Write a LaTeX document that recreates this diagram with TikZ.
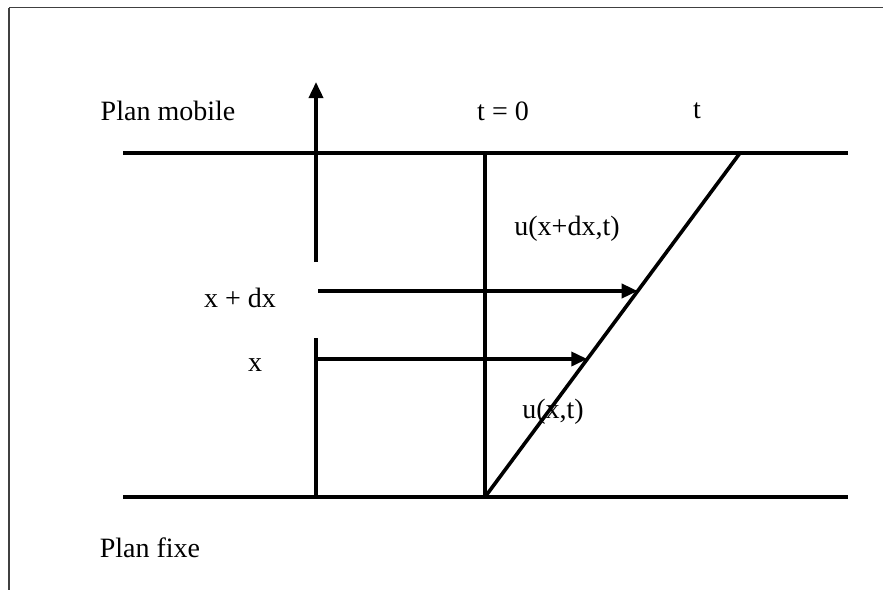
\documentclass[tikz,border=0pt]{standalone}
\usepackage{fontspec}
\setmainfont{Liberation Serif}
\usetikzlibrary{positioning, arrows.meta, calc}

\begin{document}
\begin{tikzpicture}[
    x=0.5pt, y=-0.5pt,
    plan/.style={line width=1.8pt},
    frame/.style={line width=0.7pt, draw=black!75},
    arr/.style={-{Triangle[length=8pt, width=7pt]}, line width=1.8pt},
    lbl/.style={font=\fontsize{14}{16}\selectfont, inner sep=0pt},
]
\useasboundingbox (0,0) rectangle (883,590);

% Frame (cut on the right and at the bottom)
\coordinate (fr) at (9,7.5);
\draw[frame] (fr) -- (883,7.5);
\draw[frame] (fr) -- (9,590);

% The two plans
\coordinate (mobL) at (123,153);
\coordinate (mobR) at (848,153);
\coordinate (fixL) at (123,497);
\coordinate (fixR) at (848,497);
\draw[plan] (mobL) -- (mobR);
\draw[plan] (fixL) -- (fixR);

% Axis x (broken)
\coordinate (axB) at (316,497);
\coordinate (axG1) at (316,338);
\coordinate (axG2) at (316,262);
\coordinate (axT) at (316,82);
\draw[plan] (axB) -- (axG1);
\draw[arr] (axG2) -- (axT);

% t = 0 and t
\coordinate (O) at (485,497);
\coordinate (T0) at (485,153);
\coordinate (Tt) at (740,153);
\draw[plan] (O) -- (T0);
\draw[plan] (O) -- (Tt);

% Displacements
\coordinate (xA) at (317,359);
\coordinate (xdA) at (318,291);
\coordinate (uX) at ($(O)!{138/344}!(Tt)$);
\coordinate (uXd) at ($(O)!{206/344}!(Tt)$);
\draw[arr] (xA) -- (uX);
\draw[arr] (xdA) -- (uXd);

% Labels
\node[lbl] (mobile) at (168,111) {Plan mobile};
\node[lbl] (fixe) at (150,548) {Plan fixe};
\node[lbl] (t0) at (503,111) {t = 0};
\node[lbl] (t) at (697,111) {t};
\node[lbl] (uxd) at (567,229) {u(x+dx,t)};
\node[lbl] (ux) at (553,412) {u(x,t)};
\node[lbl] (xdx) at (240,298) {x + dx};
\node[lbl] (x) at (255,365) {x};

\end{tikzpicture}
\end{document}
